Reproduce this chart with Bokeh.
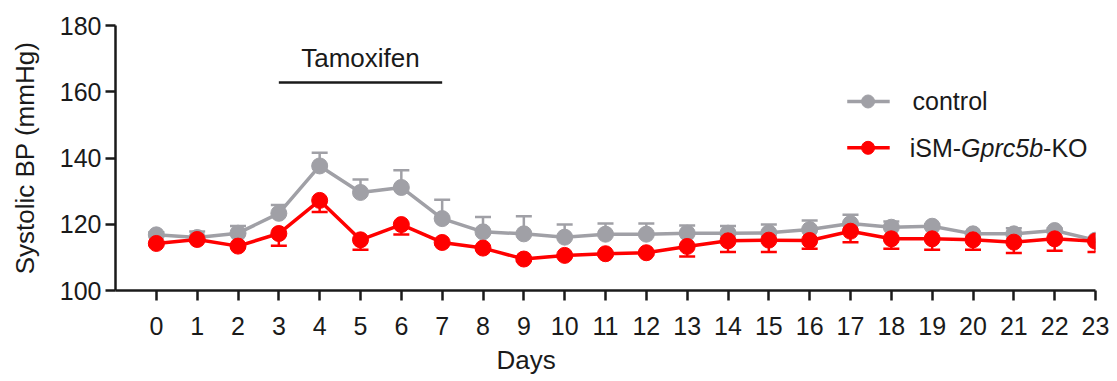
from bokeh.plotting import figure
from bokeh.models import Range1d, FixedTicker, ColumnDataSource, Whisker, TeeHead, Title
from bokeh.core.properties import value
from bokeh.embed import file_html
from bokeh.resources import INLINE

# ---- data ----
days = list(range(24))
control = [116.8, 116.0, 117.3, 123.3, 137.6, 129.6, 131.1, 121.7, 117.7, 117.1, 116.1, 117.0,
           117.0, 117.3, 117.3, 117.4, 118.4, 120.2, 119.1, 119.4, 117.1, 117.1, 118.1, 115.2]
control_err = [0.8, 1.8, 2.2, 2.5, 4.0, 3.9, 5.2, 5.7, 4.5, 5.3, 3.8, 3.2,
               3.2, 2.3, 2.2, 2.5, 2.7, 2.7, 1.7, 0.6, 0.5, 1.7, 0.6, 0.5]
ko = [114.2, 115.4, 113.4, 117.2, 127.2, 115.3, 119.9, 114.5, 112.8, 109.5, 110.6, 111.1,
      111.4, 113.3, 115.0, 115.2, 115.1, 117.9, 115.6, 115.6, 115.3, 114.6, 115.6, 114.9]
ko_err = [0.5, 0.5, 0.5, 3.7, 3.5, 3.0, 3.0, 0.5, 0.5, 0.5, 0.5, 0.5,
          0.5, 3.0, 3.4, 3.6, 2.5, 3.3, 3.0, 3.3, 3.0, 3.3, 3.6, 3.3]
y_ticks = [100, 120, 140, 160, 180]
series_names = ["control", "iSM-", "Gprc5b", "-KO"]
x_title = "Days"
y_title = "Systolic BP (mmHg)"
treatment_label = "Tamoxifen"
treatment_days = [3, 7]
treatment_level = 162.8

GREY = "#a0a0a6"
RED = "#ff0000"
FONT = "Liberation Sans"
TXT = "#1a1a1a"

p = figure(width=1110, frame_width=980, frame_height=265,
           x_range=Range1d(-1, 23), y_range=Range1d(100, 180),
           output_backend="svg", toolbar_location=None,
           min_border_left=115, min_border_right=15, min_border_top=25, min_border_bottom=88)
p.outline_line_color = None
p.xgrid.visible = False
p.ygrid.visible = False
p.background_fill_color = "white"
p.border_fill_color = "white"

for ax in (p.xaxis[0], p.yaxis[0]):
    ax.axis_line_width = 2.5
    ax.axis_line_color = TXT
    ax.major_tick_line_width = 2.5
    ax.major_tick_line_color = TXT
    ax.major_tick_out = 10
    ax.major_tick_in = 0
    ax.minor_tick_line_color = None
    ax.major_label_text_font = FONT
    ax.major_label_text_font_size = "25px"
    ax.major_label_text_color = TXT
    ax.axis_label_text_font = FONT
    ax.axis_label_text_font_size = "26px"
    ax.axis_label_text_font_style = "normal"
    ax.axis_label_text_color = TXT

p.xaxis.ticker = FixedTicker(ticks=days)
p.yaxis.ticker = FixedTicker(ticks=y_ticks)
p.yaxis.axis_label = y_title
p.xaxis.major_label_standoff = 16
p.yaxis.major_label_standoff = 4
p.yaxis.axis_label_standoff = 17

# x title placed like the original (left of the axis centre)
p.add_layout(Title(text=x_title, align="left", offset=381, standoff=10,
                   text_font=FONT, text_font_size="26px", text_font_style="normal",
                   text_color=TXT), "below")

# error bars (control: upward, KO: downward)
csrc = ColumnDataSource(dict(x=days, y=control,
                             up=[c + e for c, e in zip(control, control_err)]))
ksrc = ColumnDataSource(dict(x=days, y=ko,
                             lo=[k - e for k, e in zip(ko, ko_err)]))

wc = Whisker(source=csrc, base="x", lower="y", upper="up", dimension="height",
             line_color=GREY, line_width=2.5,
             upper_head=TeeHead(size=16, line_color=GREY, line_width=2.5), lower_head=None)
wk = Whisker(source=ksrc, base="x", lower="lo", upper="y", dimension="height",
             line_color=RED, line_width=2.5,
             lower_head=TeeHead(size=16, line_color=RED, line_width=2.5), upper_head=None)
p.add_layout(wc)
p.add_layout(wk)

p.line("x", "y", source=csrc, line_color=GREY, line_width=3.5)
p.scatter("x", "y", source=csrc, size=16, fill_color=GREY, line_color=GREY)
p.line("x", "y", source=ksrc, line_color=RED, line_width=3.5)
p.scatter("x", "y", source=ksrc, size=16, fill_color=RED, line_color=RED)

# Tamoxifen treatment bar
p.segment(x0=[treatment_days[0]], x1=[treatment_days[1]], y0=[treatment_level], y1=[treatment_level],
          line_color=TXT, line_width=2.5)
p.text(x=[sum(treatment_days) / 2], y=[treatment_level + 7.3], text=[treatment_label],
       text_font=value(FONT), text_font_size=value("26px"), text_color=TXT,
       text_align="center", text_baseline="alphabetic")

# manual legend (allows italic gene name)
lx0, lx1, lxm, ltx = 16.92, 17.96, 17.43, 18.52
ly_c, ly_k = 157.06, 143.08
p.segment(x0=[lx0], x1=[lx1], y0=[ly_c], y1=[ly_c], line_color=GREY, line_width=3.5)
p.scatter(x=[lxm], y=[ly_c], size=13, fill_color=GREY, line_color=GREY)
p.segment(x0=[lx0], x1=[lx1], y0=[ly_k], y1=[ly_k], line_color=RED, line_width=3.5)
p.scatter(x=[lxm], y=[ly_k], size=13, fill_color=RED, line_color=RED)

LFS = 25
p.text(x=[ltx], y=[ly_c], text=[series_names[0]], text_font=value(FONT),
       text_font_size=value(f"{LFS}px"), text_color=TXT, text_align="left", text_baseline="middle")
offsets = [0, 2.055 * LFS, (2.055 + 3.279) * LFS]
styles = ["normal", "italic", "normal"]
for name, off, st in zip(series_names[1:], offsets, styles):
    p.text(x=[ltx - 0.07], y=[ly_k], text=[name], x_offset=off, text_font=value(FONT),
           text_font_size=value(f"{LFS}px"), text_font_style=value(st), text_color=TXT,
           text_align="left", text_baseline="middle")

open("out.html", "w").write(file_html(p, INLINE))
